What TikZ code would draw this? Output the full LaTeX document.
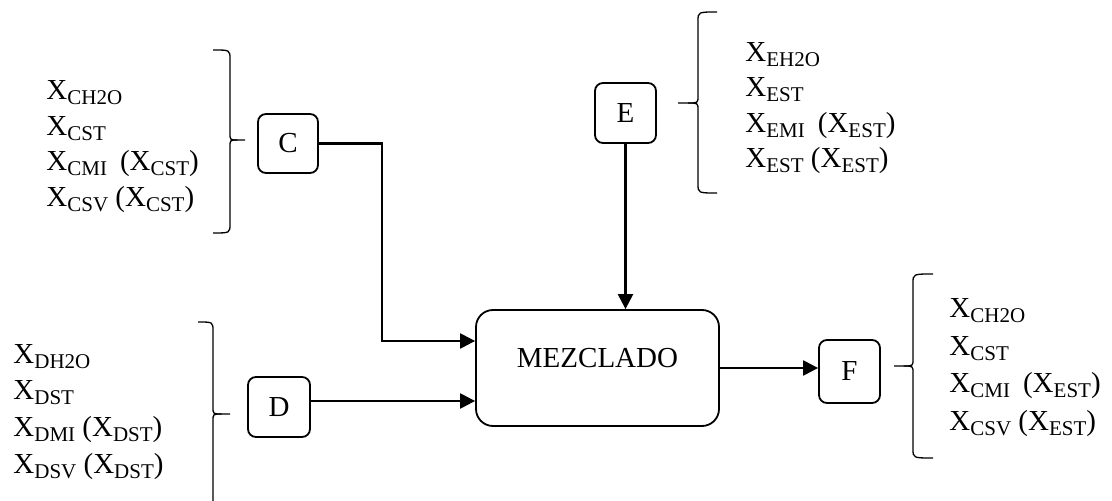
\documentclass[tikz,border=0pt]{standalone}
\usepackage{fontspec}
\setmainfont{Liberation Serif}
\usetikzlibrary{arrows.meta,calc}

% lowered, reduced-size index after the variable letter
\newcommand\sbs[1]{\raisebox{-2.5pt}{\fontsize{10.5pt}{10.5pt}\selectfont #1}}
\newcommand\X[1]{X\sbs{#1}}

% curly bracket: #1 hook end x, #2 stem x, #3 top y, #4 bottom y, #5 tip x, #6 tip y
\newcommand\drawbrace[6]{%
  \draw[brc] (#1,#3) .. controls (#2,#3) .. (#2,{#3+9}) -- (#2,{#6-7})
    .. controls (#2,#6) .. ({#2+0.5*(#5-#2)},#6) -- (#5,#6);
  \draw[brc] (#1,#4) .. controls (#2,#4) .. (#2,{#4-9}) -- (#2,{#6+7})
    .. controls (#2,#6) .. ({#2+0.5*(#5-#2)},#6);
}

\begin{document}
\begin{tikzpicture}[x=0.5pt,y=-0.5pt,
  every node/.style={font=\fontsize{14.5pt}{17pt}\selectfont, inner sep=0pt},
  txt/.style={anchor=base west},
  stream/.style={draw, rounded corners=4pt, line width=0.9pt},
  unit/.style={draw, rounded corners=8.5pt, line width=0.9pt,
    minimum width=121.5pt, minimum height=58pt},
  arr/.style={line width=1.15pt, -{Triangle[length=7.5pt,width=7.5pt]}},
  brc/.style={line width=0.65pt},
]
\clip (0,0) rectangle (1112,501);

% process unit and streams
\node[unit] (M) at (597.5,368) {};
\node (Mt) at (597.5,358.5) {MEZCLADO};
\node[stream, minimum width=30pt, minimum height=29.5pt] (C) at (288,143.5) {C};
\node[stream, minimum width=30.5pt, minimum height=30pt] (E) at (625.5,113) {E};
\node[stream, minimum width=31pt, minimum height=30pt] (D) at (279,407) {D};
\node[stream, minimum width=30.5pt, minimum height=31.5pt] (F) at (849.5,371.5) {F};

% connections
\coordinate (cIn) at ($(M.west)+(0,-27)$);
\coordinate (dIn) at ($(M.west)+(0,33)$);
\draw[arr] (C.east) -- ++(63,0) |- (cIn);
\draw[arr] (D.east |- dIn) -- (dIn);
\draw[arr] (E.south) -- (E.south |- M.north);
\draw[arr] (M.east) -- (M.east -| F.west);

% brackets
\drawbrace{213}{230}{50}{233}{245}{140}
\drawbrace{198}{213}{322}{510}{230}{414}
\drawbrace{717}{698}{12}{193}{678}{103}
\drawbrace{933}{913}{274}{458}{894}{366}

% composition of stream C
\node[txt] (c1) at (46,100) {\X{CH2O}};
\node[txt] (c2) at (46,135.5) {\X{CST}};
\node[txt] (c3) at (46,171) {\X{CMI}\hspace{0.45em}(\X{CST})};
\node[txt] (c4) at (46,207) {\X{CSV} (\X{CST})};

% composition of stream E
\node[txt] (e1) at (745,62) {\X{EH2O}};
\node[txt] (e2) at (745,97) {\X{EST}};
\node[txt] (e3) at (745,132.5) {\X{EMI}\hspace{0.45em}(\X{EST})};
\node[txt] (e4) at (745,168) {\X{EST} (\X{EST})};

% composition of stream D
\node[txt] (d1) at (13,364) {\X{DH2O}};
\node[txt] (d2) at (13,400) {\X{DST}};
\node[txt] (d3) at (13,437) {\X{DMI} (\X{DST})};
\node[txt] (d4) at (13,473.5) {\X{DSV} (\X{DST})};

% composition of stream F
\node[txt] (f1) at (949,318) {\X{CH2O}};
\node[txt] (f2) at (949,356) {\X{CST}};
\node[txt] (f3) at (949,393) {\X{CMI}\hspace{0.45em}(\X{EST})};
\node[txt] (f4) at (949,430) {\X{CSV} (\X{EST})};
\end{tikzpicture}
\end{document}
